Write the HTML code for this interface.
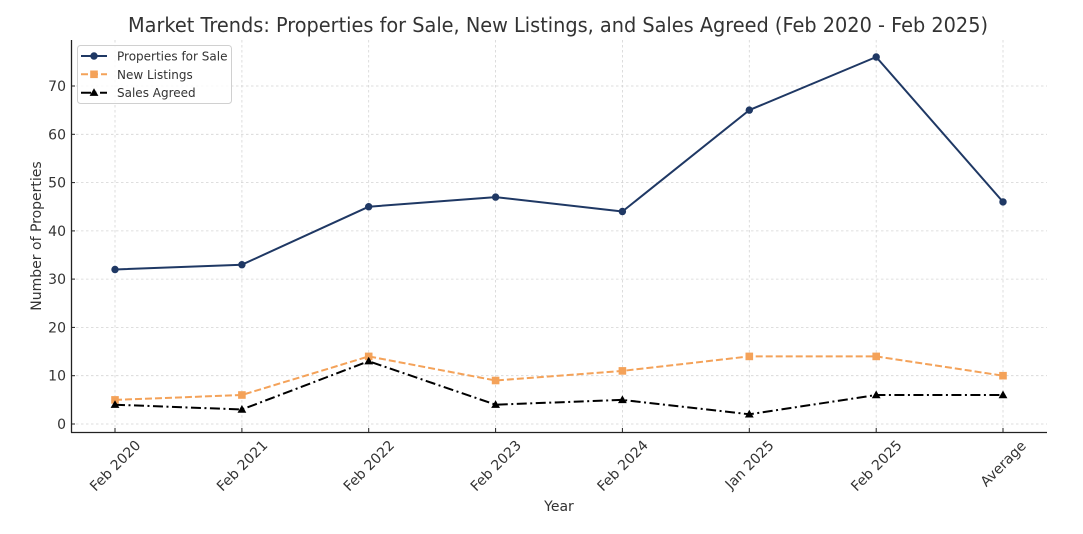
<!DOCTYPE html>
<html>
<head>
<meta charset="utf-8">
<style>
  html, body { margin:0; padding:0; background:#fff; }
  svg { display:block; }
  text { font-family: "DejaVu Sans", "Liberation Sans", sans-serif; fill:#333; }
</style>
</head>
<body>
<svg width="1083" height="534" viewBox="0 0 1083 534" xmlns="http://www.w3.org/2000/svg">
  <rect width="1083" height="534" fill="#fff"/>

  <!-- grid -->
  <g stroke="#d4d4d4" stroke-width="0.8" stroke-dasharray="2.5,2.5" fill="none">
    <line x1="71" y1="424" x2="1047" y2="424"/>
    <line x1="71" y1="375.7" x2="1047" y2="375.7"/>
    <line x1="71" y1="327.4" x2="1047" y2="327.4"/>
    <line x1="71" y1="279.1" x2="1047" y2="279.1"/>
    <line x1="71" y1="230.9" x2="1047" y2="230.9"/>
    <line x1="71" y1="182.6" x2="1047" y2="182.6"/>
    <line x1="71" y1="134.3" x2="1047" y2="134.3"/>
    <line x1="71" y1="86" x2="1047" y2="86"/>
    <line x1="115" y1="40" x2="115" y2="432"/>
    <line x1="241.9" y1="40" x2="241.9" y2="432"/>
    <line x1="368.7" y1="40" x2="368.7" y2="432"/>
    <line x1="495.6" y1="40" x2="495.6" y2="432"/>
    <line x1="622.4" y1="40" x2="622.4" y2="432"/>
    <line x1="749.3" y1="40" x2="749.3" y2="432"/>
    <line x1="876.2" y1="40" x2="876.2" y2="432"/>
    <line x1="1003" y1="40" x2="1003" y2="432"/>
  </g>

  <!-- spines -->
  <g stroke="#222" stroke-width="1.3">
    <line x1="71.5" y1="40" x2="71.5" y2="432.5"/>
    <line x1="71" y1="432.5" x2="1047" y2="432.5"/>
  </g>
  <!-- ticks -->
  <g stroke="#222" stroke-width="1">
    <line x1="115" y1="432" x2="115" y2="428"/>
    <line x1="241.9" y1="432" x2="241.9" y2="428"/>
    <line x1="368.7" y1="432" x2="368.7" y2="428"/>
    <line x1="495.6" y1="432" x2="495.6" y2="428"/>
    <line x1="622.4" y1="432" x2="622.4" y2="428"/>
    <line x1="749.3" y1="432" x2="749.3" y2="428"/>
    <line x1="876.2" y1="432" x2="876.2" y2="428"/>
    <line x1="1003" y1="432" x2="1003" y2="428"/>
    <line x1="71" y1="424" x2="75" y2="424"/>
    <line x1="71" y1="375.7" x2="75" y2="375.7"/>
    <line x1="71" y1="327.4" x2="75" y2="327.4"/>
    <line x1="71" y1="279.1" x2="75" y2="279.1"/>
    <line x1="71" y1="230.9" x2="75" y2="230.9"/>
    <line x1="71" y1="182.6" x2="75" y2="182.6"/>
    <line x1="71" y1="134.3" x2="75" y2="134.3"/>
    <line x1="71" y1="86" x2="75" y2="86"/>
  </g>

  <!-- y tick labels -->
  <g font-size="14" text-anchor="end">
    <text x="66" y="429">0</text>
    <text x="66" y="380.7">10</text>
    <text x="66" y="332.4">20</text>
    <text x="66" y="284.1">30</text>
    <text x="66" y="235.9">40</text>
    <text x="66" y="187.6">50</text>
    <text x="66" y="139.3">60</text>
    <text x="66" y="91">70</text>
  </g>

  <!-- x tick labels (rotated 45) -->
  <g font-size="14" text-anchor="middle">
    <text transform="translate(115,465.5) rotate(-45)" y="5">Feb 2020</text>
    <text transform="translate(241.9,465.5) rotate(-45)" y="5">Feb 2021</text>
    <text transform="translate(368.7,465.5) rotate(-45)" y="5">Feb 2022</text>
    <text transform="translate(495.6,465.5) rotate(-45)" y="5">Feb 2023</text>
    <text transform="translate(622.4,465.5) rotate(-45)" y="5">Feb 2024</text>
    <text transform="translate(749.3,464.5) rotate(-45)" y="5">Jan 2025</text>
    <text transform="translate(876.2,465.5) rotate(-45)" y="5">Feb 2025</text>
    <text transform="translate(1003,463.5) rotate(-45)" y="5">Average</text>
  </g>

  <!-- axis labels -->
  <text x="559" y="511" font-size="14" text-anchor="middle">Year</text>
  <text transform="translate(41,236) rotate(-90)" font-size="14" text-anchor="middle">Number of Properties</text>

  <!-- title -->
  <text x="558" y="32" font-size="20" text-anchor="middle" textLength="860" lengthAdjust="spacingAndGlyphs">Market Trends: Properties for Sale, New Listings, and Sales Agreed (Feb 2020 - Feb 2025)</text>

  <!-- Properties for Sale -->
  <polyline fill="none" stroke="#1f3864" stroke-width="2" stroke-linejoin="round"
    points="115,269.5 241.9,264.7 368.7,206.7 495.6,197.1 622.4,211.5 749.3,110.1 876.2,57 1003,201.9"/>
  <g fill="#1f3864">
    <circle cx="115" cy="269.5" r="3.7"/>
    <circle cx="241.9" cy="264.7" r="3.7"/>
    <circle cx="368.7" cy="206.7" r="3.7"/>
    <circle cx="495.6" cy="197.1" r="3.7"/>
    <circle cx="622.4" cy="211.5" r="3.7"/>
    <circle cx="749.3" cy="110.1" r="3.7"/>
    <circle cx="876.2" cy="57" r="3.7"/>
    <circle cx="1003" cy="201.9" r="3.7"/>
  </g>

  <!-- New Listings -->
  <polyline fill="none" stroke="#f4a259" stroke-width="2" stroke-dasharray="7,3"
    points="115,399.9 241.9,395 368.7,356.4 495.6,380.5 622.4,370.9 749.3,356.4 876.2,356.4 1003,375.7"/>
  <g fill="#f4a259">
    <rect x="111.2" y="396.1" width="7.6" height="7.6"/>
    <rect x="238.1" y="391.2" width="7.6" height="7.6"/>
    <rect x="364.9" y="352.6" width="7.6" height="7.6"/>
    <rect x="491.8" y="376.7" width="7.6" height="7.6"/>
    <rect x="618.6" y="367.1" width="7.6" height="7.6"/>
    <rect x="745.5" y="352.6" width="7.6" height="7.6"/>
    <rect x="872.4" y="352.6" width="7.6" height="7.6"/>
    <rect x="999.2" y="371.9" width="7.6" height="7.6"/>
  </g>

  <!-- Sales Agreed -->
  <polyline fill="none" stroke="#000" stroke-width="2" stroke-dasharray="10,3.5,2,3.5"
    points="115,404.7 241.9,409.5 368.7,361.2 495.6,404.7 622.4,399.9 749.3,414.3 876.2,395 1003,395"/>
  <g fill="#000">
    <polygon points="115,400.2 110.6,407.9 119.4,407.9"/>
    <polygon points="241.9,405 237.5,412.7 246.3,412.7"/>
    <polygon points="368.7,356.7 364.3,364.4 373.1,364.4"/>
    <polygon points="495.6,400.2 491.2,407.9 500,407.9"/>
    <polygon points="622.4,395.4 618,403.1 626.8,403.1"/>
    <polygon points="749.3,409.8 744.9,417.5 753.7,417.5"/>
    <polygon points="876.2,390.5 871.8,398.2 880.6,398.2"/>
    <polygon points="1003,390.5 998.6,398.2 1007.4,398.2"/>
  </g>

  <!-- legend -->
  <rect x="77.5" y="45.5" width="154" height="58" rx="3" ry="3" fill="#fff" fill-opacity="0.85" stroke="#d0d0d0" stroke-width="1"/>
  <line x1="81" y1="56" x2="107" y2="56" stroke="#1f3864" stroke-width="2"/>
  <circle cx="94" cy="56" r="3.7" fill="#1f3864"/>
  <line x1="81" y1="74.3" x2="107" y2="74.3" stroke="#f4a259" stroke-width="2" stroke-dasharray="7,3"/>
  <rect x="90.2" y="70.5" width="7.6" height="7.6" fill="#f4a259"/>
  <line x1="81" y1="92.7" x2="107" y2="92.7" stroke="#000" stroke-width="2" stroke-dasharray="10,3.5,2,3.5"/>
  <polygon points="94,88.2 89.6,95.9 98.4,95.9" fill="#000"/>
  <g font-size="12">
    <text x="117" y="60.5">Properties for Sale</text>
    <text x="117" y="78.8">New Listings</text>
    <text x="117" y="97.2">Sales Agreed</text>
  </g>
</svg>
</body>
</html>
